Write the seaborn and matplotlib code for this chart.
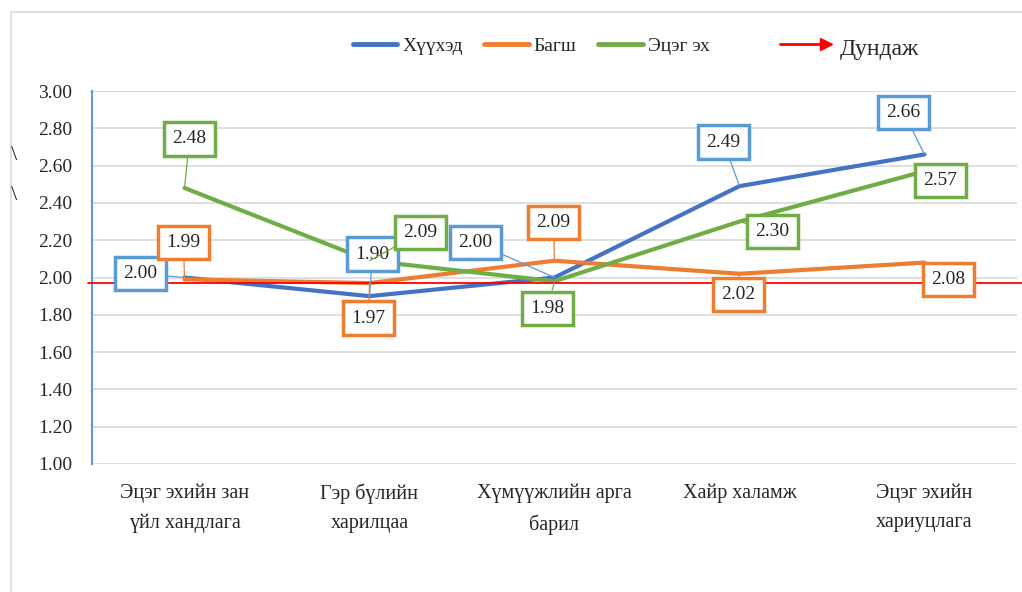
import pandas as pd
import numpy as np
import seaborn as sns
import matplotlib.pyplot as plt
from matplotlib.patches import Rectangle

# ангилал
categories = ["Эцэг эхийн зан\nүйл хандлага", "Гэр бүлийн\nхарилцаа",
              "Хүмүүжлийн арга\nбарил", "Хайр халамж", "Эцэг эхийн\nхариуцлага"]
series_names = ["Хүүхэд", "Багш", "Эцэг эх"]
child = [2.00, 1.90, 2.00, 2.49, 2.66]
teacher = [1.99, 1.97, 2.09, 2.02, 2.08]
parent = [2.48, 2.09, 1.98, 2.30, 2.57]
mean_value = 1.97

line_colors = {"Хүүхэд": "#4472C4", "Багш": "#ED7D31", "Эцэг эх": "#70AD47"}
box_colors = {"Хүүхэд": "#5B9BD5", "Багш": "#ED7D31", "Эцэг эх": "#70AD47"}
# шошгоны байрлал (пиксел шилжилт)
label_offsets = {
    "Хүүхэд": [(-44, 4), (3, 42), (-79, 35), (-16, 44), (-21, 42)],
    "Багш": [(-1, 37), (-1, -35), (-1, 38), (-1, -21), (24, -17)],
    "Эцэг эх": [(5, 49), (51, 28), (-7, -27), (33, -10), (16, -9)],
}

df = pd.DataFrame({
    "cat": categories * 3,
    "series": np.repeat(series_names, len(categories)),
    "value": child + teacher + parent,
})

sns.set_theme(style="white")
plt.rcParams['font.family'] = ['Liberation Serif', 'DejaVu Serif']

fig = plt.figure(figsize=(10.22, 5.92), dpi=100)
ax = fig.add_axes([92/1022, 1-464/592, 925/1022, 373/592])

sns.lineplot(data=df, x="cat", y="value", hue="series", palette=line_colors,
             sort=False, linewidth=3, ax=ax, legend=False)

ax.set_ylim(1.0, 3.0)
ax.set_xlim(-0.5, 4.5)
ax.set_yticks(np.arange(1.0, 3.01, 0.2))
ax.set_yticklabels([f"{v:.2f}" for v in np.arange(1.0, 3.01, 0.2)], fontsize=14)
ax.set_xticks(range(len(categories)))
ax.set_xticklabels(categories, fontsize=14.5, linespacing=1.75)
ax.tick_params(axis="y", length=0, pad=14)
ax.tick_params(axis="x", length=0, pad=14)
ax.set_xlabel("")
ax.set_ylabel("")
ax.grid(axis="y", color="#D9D9D9", linewidth=1.2)
ax.set_axisbelow(True)
for s in ["top", "right", "bottom"]:
    ax.spines[s].set_visible(False)
ax.spines["left"].set_color("#5B9BD5")
ax.spines["left"].set_linewidth(1.5)

# дундаж шугам
ax.plot([-0.52, 4.53], [mean_value, mean_value], color="red", linewidth=1.3,
        clip_on=False, zorder=6)
ax.plot([4.53], [mean_value], marker="|", color="red", markersize=11,
        markeredgewidth=1.8, clip_on=False, zorder=6)

# утгын шошго
values = {"Хүүхэд": child, "Багш": teacher, "Эцэг эх": parent}
for name in series_names:
    for i, v in enumerate(values[name]):
        dx, dy = label_offsets[name][i]
        ax.annotate(f"{v:.2f}", xy=(i, v), xytext=(dx, dy), textcoords="offset pixels",
                    ha="center", va="center", fontsize=14, zorder=8,
                    bbox=dict(boxstyle="square,pad=0.42", fc="white",
                              ec=box_colors[name], lw=2.5),
                    arrowprops=dict(arrowstyle="-", color=box_colors[name], lw=0.9,
                                    shrinkA=0, shrinkB=0))

# тайлбар
handles = [plt.Line2D([], [], color=line_colors[n], linewidth=3.5) for n in series_names]
fig.legend(handles, series_names, loc="center", bbox_to_anchor=(531/1022, 1-46/592),
           ncol=3, frameon=False, fontsize=14, handlelength=2.3, columnspacing=1.1,
           handletextpad=0.25)
fig.add_artist(plt.Line2D([780/1022, 822/1022], [1-44/592, 1-44/592], color="red", lw=2))
fig.add_artist(plt.Line2D([826/1022], [1-44/592], color="red", marker=">", markersize=9, lw=0))
fig.text(840/1022, 1-49/592, "Дундаж", fontsize=17, va="center", ha="left")

# хүрээ
fig.add_artist(Rectangle((11/1022, -0.1), 1.1, 1-12/592+0.1, transform=fig.transFigure,
                         fill=False, ec="#D9D9D9", lw=1.2))
fig.text(11/1022, 1-155/592, "\\", fontsize=16, va="center")
fig.text(11/1022, 1-195/592, "\\", fontsize=16, va="center")

fig.savefig("out.png", dpi=100)
